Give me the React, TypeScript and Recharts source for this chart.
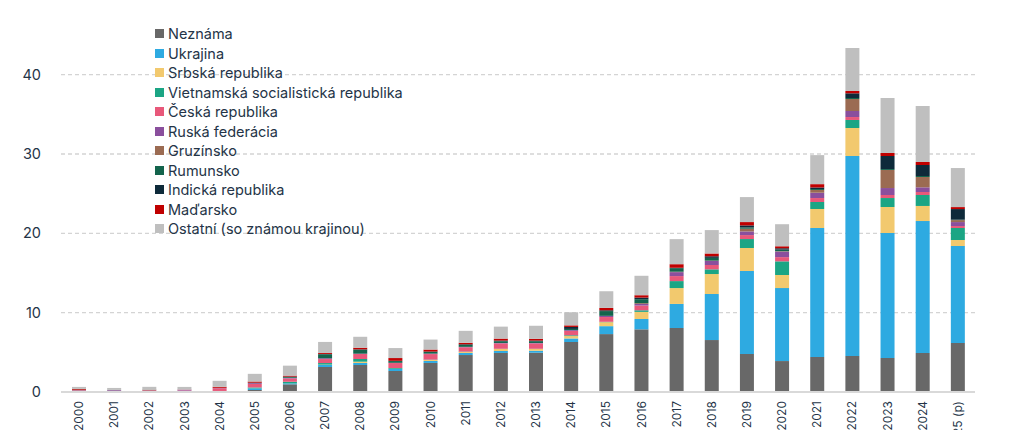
import React from 'react';
import { BarChart, Bar, XAxis, YAxis, CartesianGrid } from 'recharts';

// roky (2025 je predbežný odhad)
const years = ['2000', '2001', '2002', '2003', '2004', '2005', '2006', '2007', '2008', '2009', '2010', '2011', '2012',
  '2013', '2014', '2015', '2016', '2017', '2018', '2019', '2020', '2021', '2022', '2023', '2024', '2025 (p)'];

const neznama = [0.02, 0, 0, 0, 0.02, 0.25, 0.97, 3.15, 3.4, 2.65, 3.66, 4.66, 4.92, 4.95, 6.3, 7.3, 7.9, 8.07, 6.55, 4.79, 3.9, 4.41, 4.54, 4.29, 4.92, 6.18];
const ukrajina = [0.02, 0.03, 0.03, 0.02, 0.08, 0.2, 0.12, 0.25, 0.26, 0.25, 0.25, 0.26, 0.25, 0.25, 0.45, 1.0, 1.3, 3.03, 5.8, 10.46, 9.2, 16.26, 25.21, 15.75, 16.63, 12.22];
const srbsko = [0, 0, 0, 0, 0, 0, 0, 0.05, 0.16, 0.02, 0.12, 0.12, 0.25, 0.22, 0.3, 0.5, 0.9, 2.0, 2.52, 2.9, 1.65, 2.4, 3.53, 3.28, 1.9, 0.76];
const vietnam = [0.1, 0.05, 0.1, 0.05, 0.03, 0.12, 0.2, 0.2, 0.34, 0.1, 0.05, 0.05, 0.03, 0.03, 0.1, 0.05, 0.2, 0.88, 0.59, 1.13, 1.72, 0.88, 1.01, 1.13, 1.38, 1.51];
const cesko = [0.08, 0.08, 0.1, 0.12, 0.35, 0.45, 0.42, 0.5, 0.63, 0.63, 0.7, 0.55, 0.68, 0.68, 0.55, 0.6, 0.6, 0.63, 0.55, 0.5, 0.53, 0.5, 0.37, 0.38, 0.38, 0.25];
const rusko = [0.02, 0.08, 0, 0.1, 0.05, 0.1, 0.08, 0.1, 0.04, 0.03, 0.06, 0.05, 0.05, 0.05, 0.1, 0.15, 0.2, 0.5, 0.5, 0.46, 0.7, 0.67, 0.76, 0.88, 0.59, 0.5];
const gruzinsko = [0, 0, 0, 0, 0, 0, 0, 0, 0, 0, 0, 0, 0, 0, 0, 0, 0.1, 0.05, 0.05, 0.34, 0.05, 0.34, 1.51, 2.27, 1.3, 0.25];
const rumunsko = [0.05, 0.02, 0.05, 0, 0, 0.05, 0.1, 0.5, 0.5, 0.22, 0.2, 0.25, 0.22, 0.22, 0.15, 0.6, 0.5, 0.45, 0.35, 0.17, 0.2, 0.12, 0.13, 0.12, 0.13, 0.05];
const india = [0, 0, 0, 0, 0, 0, 0.05, 0.05, 0.05, 0.03, 0.06, 0.08, 0.08, 0.08, 0.25, 0.1, 0.2, 0.05, 0.2, 0.25, 0.17, 0.2, 0.59, 1.65, 1.38, 1.34];
const madarsko = [0.1, 0, 0.02, 0.02, 0.12, 0.15, 0.12, 0.12, 0.2, 0.35, 0.25, 0.18, 0.25, 0.22, 0.2, 0.3, 0.3, 0.45, 0.35, 0.42, 0.25, 0.42, 0.29, 0.38, 0.38, 0.25];
const ostatne = [0.25, 0.25, 0.35, 0.33, 0.76, 0.97, 1.26, 1.39, 1.38, 1.26, 1.26, 1.51, 1.51, 1.65, 1.65, 2.1, 2.45, 3.16, 2.95, 3.15, 2.78, 3.66, 5.42, 6.93, 7.06, 4.92];

const yTicks = [0, 10, 20, 30, 40];

const series = [
  { key: 'neznama', name: 'Neznáma', color: '#686868', values: neznama },
  { key: 'ukrajina', name: 'Ukrajina', color: '#2eaae1', values: ukrajina },
  { key: 'srbsko', name: 'Srbská republika', color: '#f2c96e', values: srbsko },
  { key: 'vietnam', name: 'Vietnamská socialistická republika', color: '#1ba584', values: vietnam },
  { key: 'cesko', name: 'Česká republika', color: '#e8587a', values: cesko },
  { key: 'rusko', name: 'Ruská federácia', color: '#8a4f9d', values: rusko },
  { key: 'gruzinsko', name: 'Gruzínsko', color: '#9b6b52', values: gruzinsko },
  { key: 'rumunsko', name: 'Rumunsko', color: '#13644c', values: rumunsko },
  { key: 'india', name: 'Indická republika', color: '#0e2a3a', values: india },
  { key: 'madarsko', name: 'Maďarsko', color: '#c00000', values: madarsko },
  { key: 'ostatne', name: 'Ostatní (so známou krajinou)', color: '#bfbfbf', values: ostatne },
];

const data = years.map((year, i) => {
  const row: any = { year };
  series.forEach(s => { row[s.key] = s.values[i]; });
  return row;
});

const FONT = 'Inter, "Open Sans", sans-serif';
const TEXT = '#243447';

const YearTick = (props: any) => {
  const { x, y, payload } = props;
  return (
    <g transform={`translate(${x},${y})`}>
      <text transform="rotate(-90)" x={-1} y={0} dy={4.5} textAnchor="end" fontSize={12} fill={TEXT} fontFamily={FONT}>
        {payload.value}
      </text>
    </g>
  );
};

// legenda ako samostatná vrstva, aby neposúvala plochu grafu
const LegendList = () => (
  <div style={{ position: 'absolute', top: 24, left: 155, fontFamily: FONT, fontSize: 14.5, color: TEXT }}>
    {series.map(s => (
      <div key={s.key} style={{ display: 'flex', alignItems: 'center', height: 19.5, whiteSpace: 'nowrap' }}>
        <span style={{ width: 9, height: 9, background: s.color, marginRight: 4, display: 'inline-block' }} />
        <span>{s.name}</span>
      </div>
    ))}
  </div>
);

export default function App() {
  return (
    <div style={{ position: 'fixed', top: 0, left: 0, width: 1011, height: 430, background: '#fff' }}>
      <BarChart width={1011} height={430} data={data} margin={{ top: 35, right: 36, left: 0, bottom: 0 }} barSize={14}>
        <CartesianGrid vertical={false} horizontalValues={yTicks} stroke="#d4d4d4" strokeDasharray="4 3" strokeWidth={1.3} />
        <XAxis dataKey="year" interval={0} tick={<YearTick />} tickLine={false} axisLine={{ stroke: '#d9d9d9', strokeWidth: 2 }} height={38} />
        <YAxis domain={[0, 45]} ticks={yTicks} width={61} axisLine={false} tickLine={false} tickMargin={14}
          tick={{ fontSize: 14.5, fill: TEXT, fontFamily: FONT }} />
        {series.map(s => (
          <Bar key={s.key} dataKey={s.key} name={s.name} stackId="a" fill={s.color} isAnimationActive={false} />
        ))}
      </BarChart>
      <LegendList />
    </div>
  );
}
